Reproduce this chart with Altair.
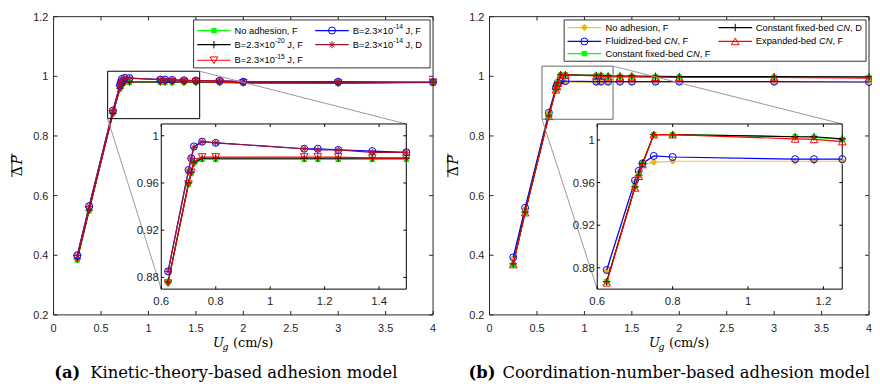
import re
import altair as alt
import pandas as pd

# ------------------------------------------------------------------ data
U = [0.25, 0.375, 0.625, 0.70, 0.71, 0.72, 0.75, 0.80, 1.125, 1.175, 1.25,
     1.375, 1.5, 1.75, 2.0, 3.0, 4.0]

# legend labels: ^{..} = superscript, *..* = italic
a_labels = ["No adhesion, F", "B=2.3×10^{-20} J, F", "B=2.3×10^{-15} J, F",
            "B=2.3×10^{-14} J, F", "B=2.3×10^{-14} J, D"]
a_no_adhesion = [0.384, 0.549, 0.876, 0.959, 0.968, 0.977, 0.980, 0.980, 0.980,
                 0.980, 0.980, 0.980, 0.980, 0.979, 0.977, 0.976, 0.979]
a_b20 = [0.388, 0.551, 0.876, 0.960, 0.969, 0.977, 0.981, 0.981, 0.981,
         0.981, 0.981, 0.981, 0.981, 0.980, 0.979, 0.978, 0.980]
a_b15 = [0.389, 0.552, 0.875, 0.959, 0.969, 0.978, 0.982, 0.982, 0.982,
         0.982, 0.982, 0.981, 0.981, 0.980, 0.978, 0.977, 0.980]
a_b14_f = [0.400, 0.565, 0.885, 0.971, 0.981, 0.991, 0.995, 0.994, 0.989,
           0.989, 0.988, 0.987, 0.986, 0.985, 0.982, 0.982, 0.980]
a_b14_d = [0.399, 0.564, 0.885, 0.970, 0.981, 0.990, 0.995, 0.994, 0.989,
           0.988, 0.988, 0.986, 0.986, 0.985, 0.982, 0.981, 0.980]

b_labels = ["No adhesion, F", "Fluidized-bed *CN*, F", "Constant fixed-bed *CN*, F",
            "Constant fixed-bed *CN*, D", "Expanded-bed *CN*, F"]
b_no_adhesion = [0.390, 0.556, 0.877, 0.961, 0.970, 0.977, 0.979, 0.980, 0.980,
                 0.980, 0.980, 0.980, 0.980, 0.980, 0.980, 0.980, 0.980]
b_fluidized = [0.393, 0.559, 0.878, 0.962, 0.971, 0.978, 0.985, 0.984, 0.982,
               0.982, 0.982, 0.982, 0.982, 0.982, 0.982, 0.982, 0.981]
b_const_f = [0.370, 0.544, 0.867, 0.956, 0.967, 0.978, 1.005, 1.005, 1.003,
             1.0025, 1.0005, 1.000, 1.000, 0.999, 0.998, 0.997, 0.996]
b_const_d = [0.371, 0.545, 0.867, 0.956, 0.967, 0.978, 1.005, 1.005, 1.003,
             1.003, 1.001, 1.001, 1.001, 1.000, 0.999, 0.999, 0.998]
b_expanded = [0.369, 0.543, 0.866, 0.955, 0.966, 0.977, 1.005, 1.005, 1.001,
              1.0005, 0.9985, 0.998, 0.998, 0.997, 0.996, 0.996, 0.994]

x_main_ticks = [0, 0.5, 1, 1.5, 2, 2.5, 3, 3.5, 4]
y_main_ticks = [0.2, 0.4, 0.6, 0.8, 1.0, 1.2]
inset_x_ticks = [[0.6, 0.8, 1.0, 1.2, 1.4], [0.6, 0.8, 1.0, 1.2]]
inset_y_ticks = [0.88, 0.92, 0.96, 1.0]
captions = [("(a)", "Kinetic-theory-based adhesion model"),
            ("(b)", "Coordination-number-based adhesion model")]

# ------------------------------------------------------------------ styles
PLUS = "M-1,0L1,0M0,-1L0,1"
STAR = "M-1,0L1,0M0,-1L0,1M-0.72,-0.72L0.72,0.72M-0.72,0.72L0.72,-0.72"
SIZE = {"square": 30, "circle": 50, "triangle-down": 60, "triangle-up": 60,
        "diamond": 50, PLUS: 56, STAR: 50}
# (line colour, marker colour, shape, filled)
a_style = [("#00FF00", "#00FF00", "square", True), ("#000000", "#000000", PLUS, False),
           ("#FF0000", "#FF0000", "triangle-down", False), ("#0000FF", "#0000FF", "circle", False),
           ("#A2142F", "#A2142F", STAR, False)]
b_style = [("#F0C050", "#EDB120", "diamond", True), ("#0000FF", "#0000FF", "circle", False),
           ("#00FF00", "#00FF00", "square", True), ("#000000", "#000000", PLUS, False),
           ("#FF0000", "#FF0000", "triangle-up", False)]

SANS = "Liberation Sans"
SERIF = "DejaVu Serif"
AXCOL = "#262626"
LEG_FS = 9.4
SUP_FS = 6.8
# Arial / Liberation Sans advance widths (1/1000 em) for legend layout
ARIAL_W = {" ": 278, ",": 278, "-": 333, ".": 278, "=": 584, "×": 584,
           "A": 667, "B": 667, "C": 722, "D": 722, "E": 667, "F": 611, "J": 500, "N": 722,
           "a": 556, "b": 556, "c": 500, "d": 556, "e": 556, "f": 278, "h": 556, "i": 222,
           "l": 222, "n": 556, "o": 556, "p": 556, "s": 500, "t": 278, "u": 556, "x": 500,
           "z": 500}

# ------------------------------------------------------------------ layout (pixels from plot origin)
VIEW_W, VIEW_H = 823, 301
PANEL_W = 383
PANEL_X0 = [0, 440]
INSET_PX_X = [(108.7, 356.0), (548.7, 796.0)]
INSET_PX_Y = (275.0, 108.3)
INSET_XDOM = [(0.6, 1.5), (0.6, 1.25)]
INSET_YDOM = [(0.87, 1.01), (0.86, 1.015)]
ZOOM_BOX = [(0.57, 1.54, 0.858, 1.017), (0.553, 1.302, 0.856, 1.034)]
ZOOM_COL = ["#000000", "#666666"]
LEG_BOX = [(141.3, 380.0, 3.3, 51.7), (515.3, 820.0, 3.3, 45.0)]
LEG_ROWS = [(14.0, 28.3, 44.0), (11.0, 25.0, 37.3)]
LEG_COLS = [((145.0, 178.7, 182.7), (264.0, 298.0, 302.0)),
            ((518.7, 552.7, 557.0), (671.0, 705.0, 708.7))]

ONE = pd.DataFrame({"a": [0]})


def text_width(s, size):
    return sum(ARIAL_W.get(c, 556) for c in s) / 1000.0 * size


def tick_layers(xs, ys, xdom, ydom, xt, yt, L, col):
    out = []
    for yv, off in ((ydom[0], -L / 2), (ydom[1], L / 2)):
        df = pd.DataFrame({"t": xt, "e": [yv] * len(xt)})
        out.append(alt.Chart(df).mark_tick(orient="vertical", size=L, thickness=1,
                                           color=col, yOffset=off, opacity=1).encode(
            x=alt.X("t:Q", scale=xs, axis=None), y=alt.Y("e:Q", scale=ys, axis=None)))
    for xv, off in ((xdom[0], L / 2), (xdom[1], -L / 2)):
        df = pd.DataFrame({"t": yt, "e": [xv] * len(yt)})
        out.append(alt.Chart(df).mark_tick(orient="horizontal", size=L, thickness=1,
                                           color=col, xOffset=off, opacity=1).encode(
            y=alt.Y("t:Q", scale=ys, axis=None), x=alt.X("e:Q", scale=xs, axis=None)))
    return out


def label_layers(xs, ys, xdom, ydom, xt, yt, xdy, ydx, size):
    dfx = pd.DataFrame({"t": xt, "e": [ydom[0]] * len(xt), "lab": ["%g" % v for v in xt]})
    dfy = pd.DataFrame({"t": yt, "e": [xdom[0]] * len(yt), "lab": ["%g" % v for v in yt]})
    lx = alt.Chart(dfx).mark_text(font=SANS, fontSize=size, color=AXCOL, align="center",
                                  baseline="alphabetic", dy=xdy).encode(
        x=alt.X("t:Q", scale=xs, axis=None), y=alt.Y("e:Q", scale=ys, axis=None),
        text="lab:N")
    ly = alt.Chart(dfy).mark_text(font=SANS, fontSize=size, color=AXCOL, align="right",
                                  baseline="alphabetic", dx=ydx, dy=4).encode(
        y=alt.Y("t:Q", scale=ys, axis=None), x=alt.X("e:Q", scale=xs, axis=None),
        text="lab:N")
    return [lx, ly]


def block(xs, ys, xdom, ydom, series, fill, stroke, umin, umax):
    fr = pd.DataFrame({"x0": [xdom[0]], "x1": [xdom[1]], "y0": [ydom[0]], "y1": [ydom[1]]})
    layers = [alt.Chart(fr).mark_rect(fill=fill, stroke=stroke, strokeWidth=1).encode(
        x=alt.X("x0:Q", scale=xs, axis=None), x2="x1:Q",
        y=alt.Y("y0:Q", scale=ys, axis=None), y2="y1:Q")]
    for vals, (lcol, mcol, shp, fil) in series:
        df = pd.DataFrame({"U": U, "P": vals})
        df = df[(df.U >= umin) & (df.U <= umax)]
        base = alt.Chart(df).encode(x=alt.X("U:Q", scale=xs, axis=None),
                                    y=alt.Y("P:Q", scale=ys, axis=None))
        layers.append(base.mark_line(color=lcol, strokeWidth=1.2))
        layers.append(base.mark_point(shape=shp, size=SIZE[shp], filled=fil, color=mcol,
                                      strokeWidth=1, opacity=1))
    return layers


def txt(text, x, y, size, font=SERIF, align="left", baseline="alphabetic",
        style="normal", weight="normal", angle=0, color="#000000"):
    return alt.Chart(ONE).mark_text(text=text, font=font, fontSize=size, align=align,
                                    baseline=baseline, fontStyle=style,
                                    fontWeight=weight, angle=angle, color=color).encode(
        x=alt.value(x), y=alt.value(y))


def rich_label(label, x, y):
    """Legend label with superscript (^{..}) and italic (*..*) pieces."""
    out = []
    for part in re.split(r"(\^\{[^}]*\}|\*[^*]*\*)", label):
        if not part:
            continue
        if part.startswith("^{"):
            s, fs, dy, st = part[2:-1], SUP_FS, -3.6, "normal"
        elif part.startswith("*"):
            s, fs, dy, st = part[1:-1], LEG_FS, 0, "italic"
        else:
            s, fs, dy, st = part, LEG_FS, 0, "normal"
        lead = len(s) - len(s.lstrip(" "))
        x += text_width(" " * lead, fs)
        s = s.lstrip(" ")
        out.append(txt(s, x, y + dy, fs, font=SANS, baseline="middle", style=st))
        x += text_width(s, fs)
    return out


def panel(i, values, styles, labels):
    x0 = PANEL_X0[i]
    series = list(zip(values, styles))
    # ---- main axes
    xs = alt.Scale(domain=[0, 4], range=[x0, x0 + PANEL_W], nice=False, zero=False)
    ys = alt.Scale(domain=[0.2, 1.2], range=[VIEW_H, 0], nice=False, zero=False)
    main = block(xs, ys, (0, 4), (0.2, 1.2), series, "transparent", AXCOL, 0, 4)
    main += tick_layers(xs, ys, (0, 4), (0.2, 1.2), x_main_ticks, y_main_ticks, 4, AXCOL)
    main += label_layers(xs, ys, (0, 4), (0.2, 1.2), x_main_ticks, y_main_ticks, 17.5, -5.3, 11)
    bx0, bx1, by0, by1 = ZOOM_BOX[i]
    zb = pd.DataFrame({"x0": [bx0], "x1": [bx1], "y0": [by0], "y1": [by1]})
    main.append(alt.Chart(zb).mark_rect(fill="transparent", stroke=ZOOM_COL[i],
                                        strokeWidth=1).encode(
        x=alt.X("x0:Q", scale=xs, axis=None), x2="x1:Q",
        y=alt.Y("y0:Q", scale=ys, axis=None), y2="y1:Q"))
    # connectors: zoom box corners -> inset corners (inset pixel box mapped to main data)
    px0, px1 = INSET_PX_X[i]
    py0, py1 = INSET_PX_Y
    to_x = lambda p: (p - x0) / PANEL_W * 4
    to_y = lambda p: 0.2 + (VIEW_H - p) / VIEW_H * 1.0
    con = pd.DataFrame({"xa": [bx1, bx0], "ya": [by1, by0],
                        "xb": [to_x(px1), to_x(px0)], "yb": [to_y(py1), to_y(py0)]})
    main.append(alt.Chart(con).mark_rule(color="#999999", strokeWidth=1).encode(
        x=alt.X("xa:Q", scale=xs, axis=None), y=alt.Y("ya:Q", scale=ys, axis=None),
        x2="xb:Q", y2="yb:Q"))
    # ---- inset
    ixd, iyd = INSET_XDOM[i], INSET_YDOM[i]
    ixs = alt.Scale(domain=list(ixd), range=[px0, px1], nice=False, zero=False)
    iys = alt.Scale(domain=list(iyd), range=[py0, py1], nice=False, zero=False)
    ins = block(ixs, iys, ixd, iyd, series, "white", "#000000",
                ixd[0] - 1e-9, ixd[1] + 1e-9)
    ins += tick_layers(ixs, iys, ixd, iyd, inset_x_ticks[i], inset_y_ticks, 3, "#000000")
    ins += label_layers(ixs, iys, ixd, iyd, inset_x_ticks[i], inset_y_ticks, 16.5, -2.5, 11.5)
    # ---- legend
    leg = []
    lb = LEG_BOX[i]
    leg.append(alt.Chart(ONE).mark_rect(fill="white", stroke="#333333", strokeWidth=1).encode(
        x=alt.value(lb[0]), x2=alt.value(lb[1]), y=alt.value(lb[2]), y2=alt.value(lb[3])))
    for k, (lab, (lcol, mcol, shp, fil)) in enumerate(zip(labels, styles)):
        c, r = (0, k) if k < 3 else (1, k - 3)
        lx0, lx1, lxt = LEG_COLS[i][c]
        ly = LEG_ROWS[i][r]
        leg.append(alt.Chart(ONE).mark_rule(color=lcol, strokeWidth=1.2).encode(
            x=alt.value(lx0), x2=alt.value(lx1), y=alt.value(ly)))
        leg.append(alt.Chart(ONE).mark_point(shape=shp, size=SIZE[shp], filled=fil,
                                             color=mcol, opacity=1, strokeWidth=1).encode(
            x=alt.value((lx0 + lx1) / 2), y=alt.value(ly)))
        leg += rich_label(lab, lxt, ly)
    # ---- titles & caption
    ann = [
        txt("Δ", x0 - 36, 156, 14, angle=270, align="center", baseline="middle"),
        txt("P", x0 - 36, 144.5, 14, angle=270, align="center", baseline="middle", style="italic"),
        alt.Chart(ONE).mark_rule(color="#000000", strokeWidth=0.9).encode(
            x=alt.value(x0 - 42), y=alt.value(138), y2=alt.value(162)),
        txt("U", x0 + 161, 333, 13, style="italic"),
        txt("g", x0 + 170.5, 336.5, 9.5, style="italic"),
        txt("(cm/s)", x0 + 181, 333, 13),
        txt(captions[i][0], x0 + (27 if i == 0 else 6), 364.5, 16.5, align="right", weight="bold"),
        txt(captions[i][1], x0 + (37 if i == 0 else 13), 364.5, 16.5),
    ]
    return alt.layer(*main), alt.layer(*ins), leg + ann


lm, li, la = panel(0, [a_no_adhesion, a_b20, a_b15, a_b14_f, a_b14_d], a_style, a_labels)
rm, ri, ra = panel(1, [b_no_adhesion, b_fluidized, b_const_f, b_const_d, b_expanded], b_style, b_labels)

chart = alt.layer(lm, li, rm, ri, *la, *ra).resolve_scale(
    x="independent", y="independent"
).properties(
    width=VIEW_W, height=VIEW_H,
    autosize=alt.AutoSizeParams(type="none"),
    padding={"left": 46, "top": 7, "right": 3, "bottom": 68},
).configure_view(stroke="transparent")

chart.save("out.html", embed_options={"renderer": "svg", "actions": False})
